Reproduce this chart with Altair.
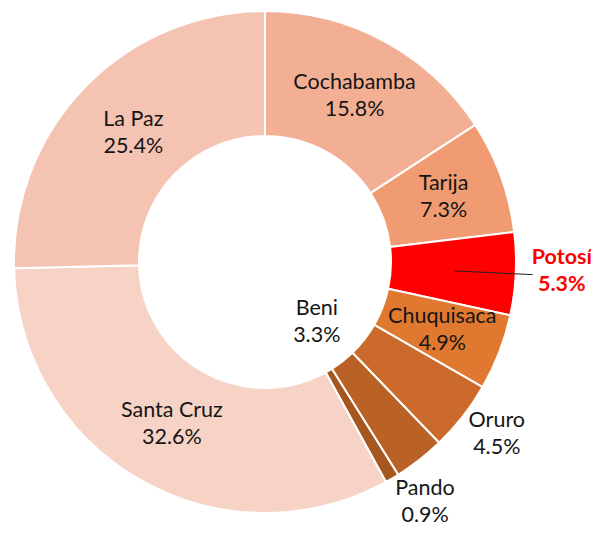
import math
import altair as alt
import pandas as pd

regions = ["Cochabamba", "Tarija", "Potosí", "Chuquisaca", "Oruro", "Beni", "Pando", "Santa Cruz", "La Paz"]
shares = [15.8, 7.3, 5.3, 4.9, 4.5, 3.3, 0.9, 32.6, 25.4]
colors = ["#F2AF94", "#F09B72", "#FF0000", "#E0782F", "#CC6A2B", "#BA6225", "#A6561F", "#F7D3C6", "#F4C3B1"]

# layout: label distance from centre (px) and small angular nudge (in share units)
label_radius = [188, 190, 297, 190, 289, 80, 289, 187, 184]
label_nudge = [0, 0, -0.25, 0, -0.36, -0.65, -0.89, 0, 0]
CX, CY = 257, 254
R_OUT, R_IN = 251, 126
FS, LH = 21.5, 27

total = sum(shares)
df = pd.DataFrame({
    "region": regions,
    "share": shares,
    "order": list(range(len(regions))),
    "label": [f"{r}\n{s:.1f}%" for r, s in zip(regions, shares)],
    "label_r": label_radius,
    "nudge": label_nudge,
})
df["hl"] = df["region"] == "Potosí"

# leader line for Potosí computed from the slice mid-angle
cum = 0.0
mids = []
for s in shares:
    mids.append((cum + s / 2) / total * 2 * math.pi)
    cum += s
a = mids[regions.index("Potosí")]
lead = pd.DataFrame({
    "x1": [CX + 190 * math.sin(a)], "y1": [CY - 190 * math.cos(a)],
    "x2": [CX + 268 * math.sin(a)], "y2": [CY - 268 * math.cos(a)],
})

arcs = alt.Chart(df).mark_arc(
    outerRadius=R_OUT, innerRadius=R_IN, stroke="white", strokeWidth=2
).encode(
    x=alt.value(CX), y=alt.value(CY),
    theta=alt.Theta("share:Q", stack=True),
    order=alt.Order("order:Q"),
    color=alt.Color("region:N", scale=alt.Scale(domain=regions, range=colors), legend=None),
)

text_all = alt.Chart(df).transform_stack(
    stack="share", groupby=[], as_=["s0", "s1"], sort=[alt.SortField("order")]
).transform_calculate(
    mid="(datum.s0 + datum.s1) / 2 + datum.nudge"
)


def label_layer(filter_expr, **kw):
    return text_all.transform_filter(filter_expr).mark_text(
        font="Lato", fontSize=FS, lineBreak="\n", lineHeight=LH, baseline="middle",
        align="center", dy=-LH / 2, **kw
    ).encode(
        x=alt.value(CX), y=alt.value(CY),
        theta=alt.Theta("mid:Q", scale=alt.Scale(domain=[0, total], range=[0, 2 * math.pi])),
        radius=alt.Radius("label_r:Q", scale=None),
        text="label:N",
    )


t1 = label_layer("!datum.hl", color="#151515")
t2 = label_layer("datum.hl", color="#FF0000", fontWeight="bold")

rule = alt.Chart(lead).mark_rule(color="#222222", strokeWidth=1).encode(
    x=alt.X("x1:Q", scale=None), y=alt.Y("y1:Q", scale=None),
    x2="x2:Q", y2="y2:Q",
)

chart = alt.layer(arcs, rule, t1, t2).properties(
    width=583, height=518, padding=0, autosize=alt.AutoSizeParams(type="none")
).configure_view(stroke=None)

chart.save("out.html", embed_options={"renderer": "svg", "actions": False})
